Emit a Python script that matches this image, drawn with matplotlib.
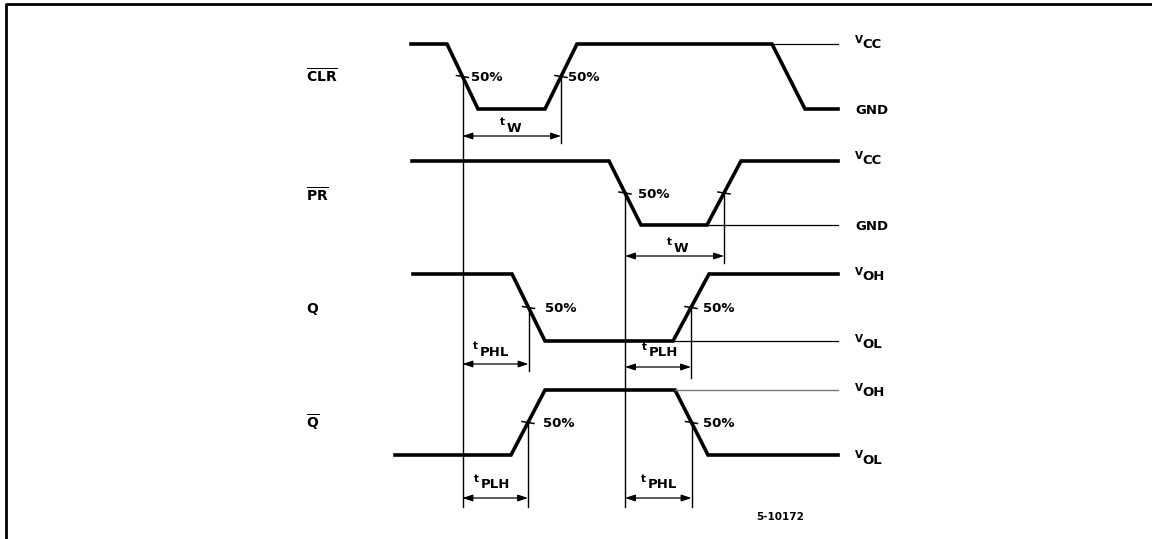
import matplotlib.pyplot as plt

plt.rcParams['font.family'] = ['DejaVu Sans']
plt.rcParams['mathtext.fontset'] = 'dejavusans'

# waveform breakpoints (pixel x) and logic state (1 = high, 0 = low)
clr_x = [411, 447, 478, 545, 577, 772, 805, 838]
clr_s = [1, 1, 0, 0, 1, 1, 0, 0]
pr_x = [412, 609, 641, 707, 741, 838]
pr_s = [1, 1, 0, 0, 1, 1]
q_x = [413, 512, 545, 673, 709, 838]
q_s = [1, 1, 0, 0, 1, 1]
qb_x = [395, 511, 545, 675, 708, 838]
qb_s = [0, 0, 1, 1, 0, 0]

# level positions (pixel y) for each trace: (high, low)
levels = {'clr': (44, 109), 'pr': (161, 225), 'q': (274, 341), 'qb': (390, 455)}

signal_names = [r'$\overline{\mathbf{CLR}}$', r'$\overline{\mathbf{PR}}$',
                r'$\mathbf{Q}$', r'$\overline{\mathbf{Q}}$']
name_y = [76, 195, 309, 423]
level_labels = [('V', 'CC', 44), ('', 'GND', 110), ('V', 'CC', 160), ('', 'GND', 226),
                ('V', 'OH', 276), ('V', 'OL', 343), ('V', 'OH', 392), ('V', 'OL', 459)]

fig = plt.figure(figsize=(11.52, 5.39), dpi=100)
ax = fig.add_axes([0, 0, 1, 1])
ax.set_xlim(0, 1152)
ax.set_ylim(539, 0)
ax.axis('off')

# frame (top and left only)
ax.plot([6, 6, 1152], [539, 4, 4], color='black', lw=2.0, solid_capstyle='butt')


def trace(xs, st, key):
    hi, lo = levels[key]
    ys = [hi if s else lo for s in st]
    ax.plot(xs, ys, color='black', lw=2.6, solid_joinstyle='miter')
    return ys


def mid(xs, ys, i):
    return (xs[i] + xs[i + 1]) / 2, (ys[i] + ys[i + 1]) / 2


clr_y = trace(clr_x, clr_s, 'clr')
pr_y = trace(pr_x, pr_s, 'pr')
q_y = trace(q_x, q_s, 'q')
qb_y = trace(qb_x, qb_s, 'qb')

# thin reference levels
thin = dict(color='black', lw=0.9)
ax.plot([577, 838], [levels['clr'][0]] * 2, **thin)
ax.plot([707, 838], [levels['pr'][1]] * 2, **thin)
ax.plot([673, 838], [levels['q'][1]] * 2, **thin)
ax.plot([675, 838], [levels['qb'][0]] * 2, color='#777777', lw=1.0)

# 50 % points
m_clr1 = mid(clr_x, clr_y, 1)
m_clr2 = mid(clr_x, clr_y, 3)
m_pr1 = mid(pr_x, pr_y, 1)
m_pr2 = mid(pr_x, pr_y, 3)
m_q1 = mid(q_x, q_y, 1)
m_q2 = mid(q_x, q_y, 3)
m_qb1 = mid(qb_x, qb_y, 1)
m_qb2 = mid(qb_x, qb_y, 3)

marks = [m_clr1, m_clr2, m_pr1, m_pr2, m_q1, m_q2, m_qb1, m_qb2]
for (mx, my) in marks:
    ax.plot([mx - 6, mx + 6], [my - 1, my + 1], color='black', lw=1.1)

pct = [(m_clr1, 9), (m_clr2, 7), (m_pr1, 13), (m_q1, 16), (m_q2, 12), (m_qb1, 15), (m_qb2, 12)]
for (mx, my), dx in pct:
    ax.text(mx + dx, my + 1, '50%', fontsize=9.5, fontweight='bold', va='center', ha='left')

# vertical reference lines
vl = dict(color='black', lw=1.0)
ax.plot([m_clr1[0]] * 2, [m_clr1[1], 507], **vl)
ax.plot([m_clr2[0]] * 2, [m_clr2[1], 143], **vl)
ax.plot([m_pr1[0]] * 2, [m_pr1[1], 507], **vl)
ax.plot([m_pr2[0]] * 2, [m_pr2[1], 263], **vl)
ax.plot([m_q1[0]] * 2, [m_q1[1], 371], **vl)
ax.plot([m_q2[0]] * 2, [m_q2[1], 378], **vl)
ax.plot([m_qb1[0]] * 2, [m_qb1[1], 507], **vl)
ax.plot([m_qb2[0]] * 2, [m_qb2[1], 507], **vl)


def span(x0, x1, y, sub, lx, ly):
    ax.annotate('', xy=(x1, y), xytext=(x0, y),
                arrowprops=dict(arrowstyle='<|-|>,head_length=0.6,head_width=0.2',
                                color='black', lw=0.9, shrinkA=0, shrinkB=0))
    ax.text(lx, ly - 4, 't', fontsize=7.5, fontweight='bold', ha='left', va='center')
    ax.text(lx + 7, ly + 2, sub, fontsize=9.5, fontweight='bold', ha='left', va='center')


span(m_clr1[0], m_clr2[0], 136, 'W', 500, 126)
span(m_pr1[0], m_pr2[0], 256, 'W', 667, 246)
span(m_clr1[0], m_q1[0], 364, 'PHL', 473, 350)
span(m_pr1[0], m_q2[0], 367, 'PLH', 642, 351)
span(m_clr1[0], m_qb1[0], 498, 'PLH', 474, 483)
span(m_pr1[0], m_qb2[0], 498, 'PHL', 641, 483)

# signal names
for name, y in zip(signal_names, name_y):
    ax.text(306, y, name, fontsize=10, ha='left', va='center')

# level labels
for small, big, y in level_labels:
    if small:
        ax.text(855, y - 4, small, fontsize=7.5, fontweight='bold', ha='left', va='center')
        ax.text(862, y + 1, big, fontsize=9.5, fontweight='bold', ha='left', va='center')
    else:
        ax.text(855, y, big, fontsize=9.5, fontweight='bold', ha='left', va='center')

ax.text(780, 517, '5-10172', fontsize=7.5, fontweight='bold', ha='center', va='center')

fig.savefig('out.png', dpi=100)
